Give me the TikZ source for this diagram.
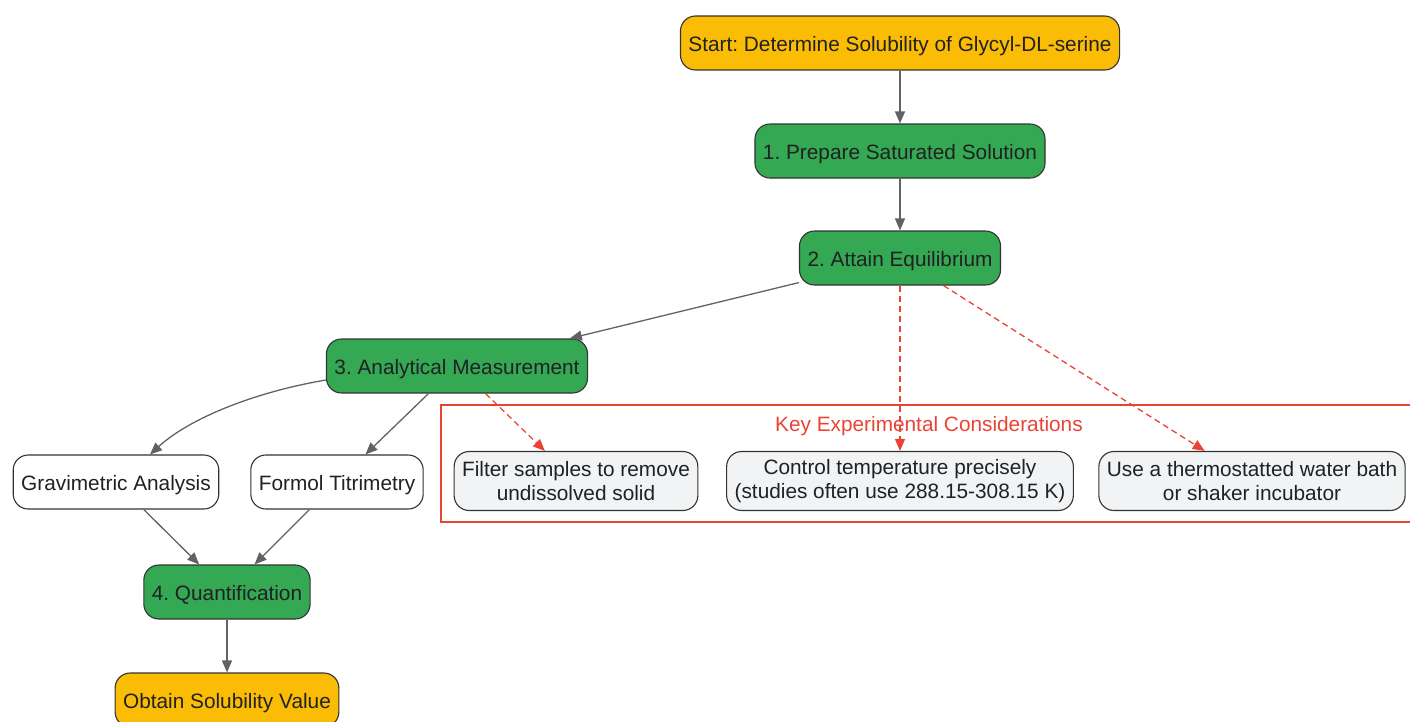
\documentclass[tikz,border=0pt]{standalone}
\usepackage{fontspec}
\setmainfont{Liberation Sans}
\usepackage{xcolor}
\usetikzlibrary{arrows.meta,
	positioning,
	calc}
\frenchspacing
\definecolor{gyellow}{HTML}{FBBC05}
\definecolor{ggreen}{HTML}{34A853}
\definecolor{lgray}{HTML}{F1F3F4}
\definecolor{kred}{HTML}{EA4335}
\definecolor{egray}{HTML}{5F6368}
\definecolor{bdark}{HTML}{333333}
\definecolor{tdark}{HTML}{202124}
\tikzstyle{box}=[draw=bdark, line width=1.1pt, rounded corners=15pt,
		minimum height=54pt, inner xsep=8pt, text=tdark,
		font=\fontsize{20.8}{24}\selectfont]
\tikzstyle{one}=[box, text height=17.5pt, text depth=1.5pt]
\tikzstyle{term}=[one, fill=gyellow]
\tikzstyle{stp}=[one, fill=ggreen]
\tikzstyle{meth}=[one, fill=white]
\tikzstyle{cons}=[box, fill=lgray, align=center, minimum height=59pt]
\tikzstyle{flow}=[draw=egray, line width=1.3pt,
		-{Triangle[length=12pt,width=10pt]}]
\tikzstyle{hint}=[draw=kred, line width=1.3pt, dash pattern=on 6pt off 4pt,
		-{Triangle[length=12pt,width=10pt]}]
\begin{document}
\begin{tikzpicture}[x=1pt, y=-1pt]
	\useasboundingbox (0,0) rectangle (1410,721);
	% cluster
	\draw[kred, line width=1.1pt] (441,405) rectangle (1430,522);
	\node[text=kred, font=\fontsize{20.8}{24}\selectfont] (keylbl) at (929,426) {Key Experimental Considerations};
	% main flow
	\node[term] (start) at (900,43) {Start: Determine Solubility of Glycyl-DL-serine};
	\node[stp] (prep) at (900,151) {1. Prepare Saturated Solution};
	\node[stp] (equil) at (900,258) {2. Attain Equilibrium};
	\node[stp] (anal) at (457,366) {3. Analytical Measurement};
	\node[meth] (grav) at (116,482) {Gravimetric Analysis};
	\node[meth] (formol) at (337,482) {Formol Titrimetry};
	\node[stp] (quant) at (227,592) {4. Quantification};
	\node[term] (obtain) at (227,700) {Obtain Solubility Value};
	% considerations
	\node[cons] (filter) at (576,481) {Filter samples to remove\\undissolved solid};
	\node[cons] (temp) at (900,481) {Control temperature precisely\\(studies often use 288.15-308.15 K)};
	\node[cons] (bath) at (1252,481) {Use a thermostatted water bath\\or shaker incubator};
	% edges
	\draw[flow] (start) -- (prep);
	\draw[flow] (prep) -- (equil);
	\draw[flow] (equil) -- (anal);
	\draw[flow] ([yshift=-14pt]anal.west) .. controls (255,392) and (190,418) .. ([xshift=34pt]grav.north);
	\draw[flow] (anal) -- (formol);
	\draw[flow] (grav) -- (quant);
	\draw[flow] (formol) -- (quant);
	\draw[flow] (quant) -- (obtain);
	\draw[hint] (equil) -- (temp);
	\draw[hint] (equil) -- (bath);
	\draw[hint] (anal) -- (filter);
\end{tikzpicture}
\end{document}
